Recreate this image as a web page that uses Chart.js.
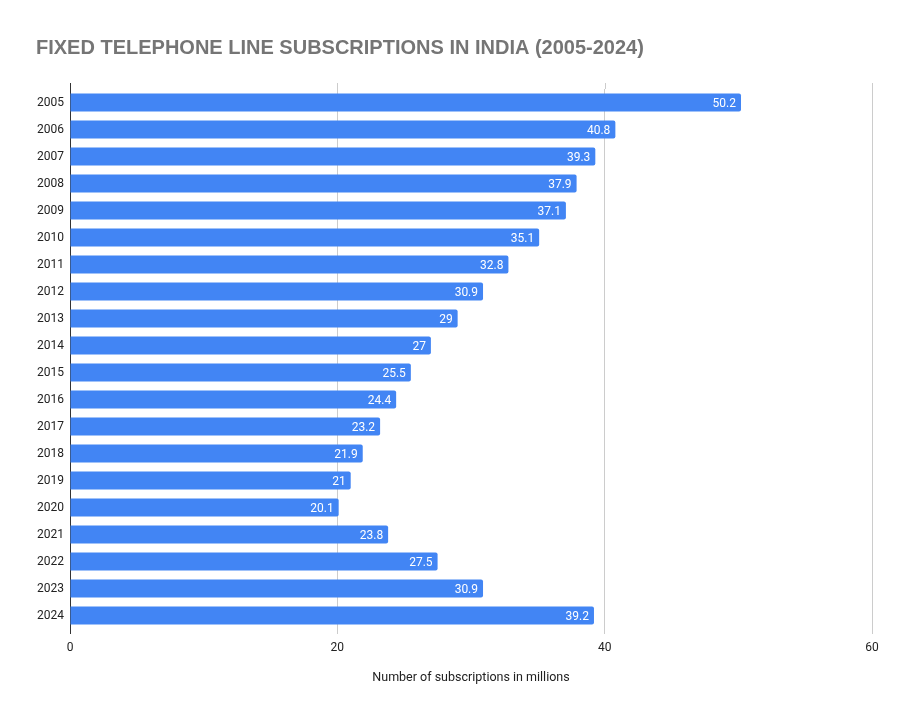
<!DOCTYPE html>
<html>
<head>
<meta charset="utf-8">
<script src="https://cdn.jsdelivr.net/npm/chart.js@4.4.0/dist/chart.umd.min.js"></script>
<style>
    html, body { margin: 0; padding: 0; background: #fff; }
    #wrap { width: 909px; height: 721px; }
</style>
</head>
<body>
<div id="wrap"><canvas id="subsCanvas"></canvas></div>
<script>
// data
var years = ["2005", "2006", "2007", "2008", "2009", "2010", "2011", "2012", "2013", "2014",
             "2015", "2016", "2017", "2018", "2019", "2020", "2021", "2022", "2023", "2024"];
var subscriptions = [50.2, 40.8, 39.3, 37.9, 37.1, 35.1, 32.8, 30.9, 29, 27,
                     25.5, 24.4, 23.2, 21.9, 21, 20.1, 23.8, 27.5, 30.9, 39.2];
var xTicks = [0, 20, 40, 60];

var chartTitle = "FIXED TELEPHONE LINE SUBSCRIPTIONS IN INDIA (2005-2024)";
var xTitle = "Number of subscriptions in millions";

// title, axis title, value labels and the grid stubs above the plot
var extras = {
    id: "extras",
    afterDraw: function (chart) {
        var ctx = chart.ctx;
        var area = chart.chartArea;
        var xs = chart.scales.x;
        ctx.save();

        // grid stubs above the plot area
        xs.ticks.forEach(function (t, i) {
            var px = Math.round(xs.getPixelForTick(i)) + 0.5;
            ctx.strokeStyle = t.value === 0 ? "#333333" : "#cccccc";
            ctx.lineWidth = 1;
            ctx.beginPath();
            ctx.moveTo(px, area.top - 6);
            ctx.lineTo(px, area.top);
            ctx.stroke();
        });

        ctx.fillStyle = "#757575";
        ctx.font = "bold 20px 'Liberation Sans'";
        ctx.textAlign = "left";
        ctx.textBaseline = "middle";
        ctx.fillText(chartTitle, 36, 48);

        ctx.fillStyle = "#222222";
        ctx.font = "12.5px Roboto";
        ctx.textAlign = "center";
        ctx.fillText(xTitle, (area.left + area.right) / 2, 678);

        // value labels inside the bar ends
        var meta = chart.getDatasetMeta(0);
        ctx.fillStyle = "#ffffff";
        ctx.font = "12px Roboto";
        ctx.textAlign = "right";
        meta.data.forEach(function (bar, i) {
            ctx.fillText(String(subscriptions[i]), bar.x - 5, bar.y + 1);
        });
        ctx.restore();
    }
};

var ctx = document.getElementById("subsCanvas");
var barChart = new Chart(ctx, {
    type: "bar",
    data: {
        labels: years,
        datasets: [{
            label: "Subscriptions",
            data: subscriptions,
            backgroundColor: "#4285f4",
            borderRadius: 2,
            borderSkipped: "start",
            categoryPercentage: 1,
            barPercentage: 0.67
        }]
    },
    options: {
        indexAxis: "y",
        responsive: true,
        maintainAspectRatio: false,
        animation: false,
        layout: {
            padding: { top: 89, right: 37, left: 0, bottom: 0 }
        },
        plugins: {
            legend: { display: false },
            title: { display: false },
            tooltip: { enabled: false }
        },
        scales: {
            x: {
                min: 0,
                max: 60,
                afterBuildTicks: function (scale) {
                    scale.ticks = xTicks.map(function (v) { return { value: v }; });
                },
                afterFit: function (scale) { scale.height = 92; },
                grid: {
                    color: function (c) { return c.tick && c.tick.value === 0 ? "#333333" : "#cccccc"; },
                    drawTicks: true,
                    tickLength: 5
                },
                border: { display: false },
                ticks: {
                    color: "#222222",
                    font: { family: "Roboto", size: 12 },
                    padding: 7,
                    maxRotation: 0
                }
            },
            y: {
                afterFit: function (scale) { scale.width = 70; },
                grid: { display: false, drawTicks: false },
                border: { display: false },
                ticks: {
                    color: "#222222",
                    font: { family: "Roboto", size: 12 },
                    padding: 6
                }
            }
        }
    },
    plugins: [extras]
});
</script>
</body>
</html>
